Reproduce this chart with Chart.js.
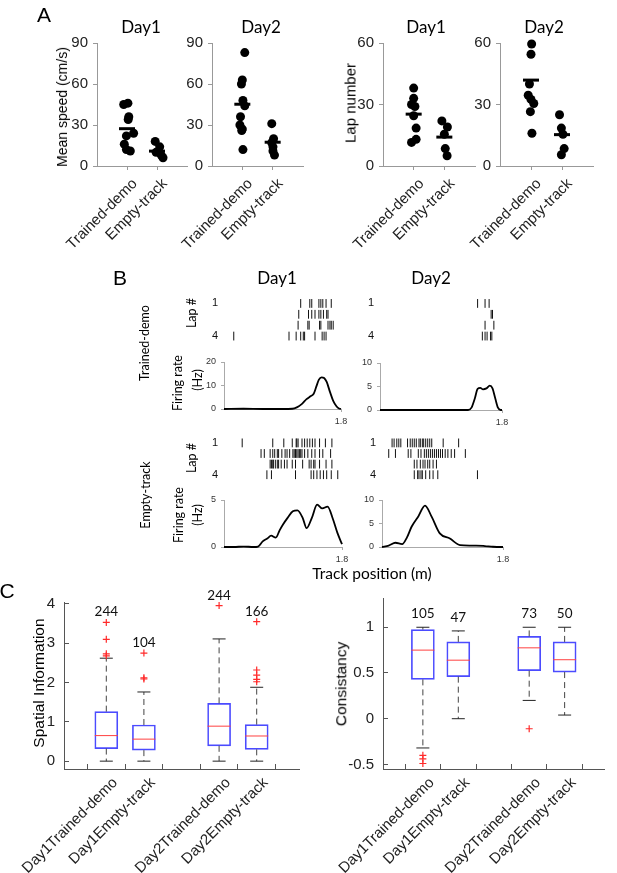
<!DOCTYPE html>
<html>
<head>
<meta charset="utf-8">
<title>Figure</title>
<script src="https://cdn.jsdelivr.net/npm/chart.js@4.4.1/dist/chart.umd.min.js"></script>
<style>
  body { margin: 0; background: #fff; }
  #page { position: relative; width: 617px; height: 873px; overflow: hidden; background: #fff; }
  #page canvas { position: absolute; left: 0; top: 0; }
  .t { position: absolute; white-space: nowrap; line-height: 1; color: #000; transform: translate(-50%, -50%); z-index: 5; }
  .v { transform: translate(-50%, -50%) rotate(-90deg); }
  .cal { font-family: Lato, "Open Sans", sans-serif; }
  .ari { font-family: "Liberation Sans", Arial, sans-serif; }
  .big { font-family: "Liberation Sans", Arial, sans-serif; font-size: 21px; }
</style>
</head>
<body>
<div id="page">
  <div class="t big" style="left:44px;top:14px">A</div>
  <div class="t cal" style="left:141px;top:26px;font-size:17px">Day1</div>
  <div class="t cal" style="left:261px;top:26px;font-size:17px">Day2</div>
  <div class="t cal" style="left:426px;top:26px;font-size:17px">Day1</div>
  <div class="t cal" style="left:544px;top:26px;font-size:17px">Day2</div>
  <div class="t ari v" style="left:62px;top:107px;font-size:14px">Mean speed (cm/s)</div>
  <div class="t ari v" style="left:350px;top:103px;font-size:15px">Lap number</div>

  <div class="t big" style="left:120px;top:277px">B</div>
  <div class="t cal" style="left:277px;top:277px;font-size:17px">Day1</div>
  <div class="t cal" style="left:431px;top:277px;font-size:17px">Day2</div>
  <div class="t cal v" style="left:145px;top:343px;font-size:12.5px">Trained-demo</div>
  <div class="t cal v" style="left:146px;top:495px;font-size:12.5px">Empty-track</div>
  <div class="t cal v" style="left:192px;top:313px;font-size:12.5px">Lap #</div>
  <div class="t cal v" style="left:192px;top:458px;font-size:12.5px">Lap #</div>
  <div class="t cal v" style="left:178px;top:383px;font-size:12.5px">Firing rate</div>
  <div class="t cal v" style="left:198px;top:380px;font-size:12.5px">(Hz)</div>
  <div class="t cal v" style="left:179px;top:515px;font-size:12.5px">Firing rate</div>
  <div class="t cal v" style="left:198px;top:515px;font-size:12.5px">(Hz)</div>
  <div class="t cal" style="left:372px;top:574px;font-size:15.5px">Track position (m)</div>

  <div class="t big" style="left:7px;top:590px">C</div>
  <div class="t ari v" style="left:39px;top:683px;font-size:15.5px">Spatial Information</div>
  <div class="t ari v" style="left:341px;top:684px;font-size:15.5px">Consistancy</div>
</div>
<script>
var W = 617, H = 873;
var page = document.getElementById('page');

// ---------- panel A ----------
var groups = ['Trained-demo', 'Empty-track'];
var speedTicks = [0, 30, 60, 90];
var lapTicks = [0, 30, 60];

var speedD1Trained = [46, 45, 36, 34, 24, 22, 16, 12, 11];
var speedD1TrainedJit = [0.03, -0.11, 0.06, 0.04, 0.22, -0.02, -0.09, -0.02, 0.11];
var speedD1Empty = [18, 14, 10, 8, 6];
var speedD1EmptyJit = [-0.06, 0.09, -0.03, 0.14, 0.2];
var speedD2Trained = [83, 63, 60, 48, 44, 36, 30, 27, 26, 12];
var speedD2TrainedJit = [0.08, 0, -0.03, 0.02, 0.08, -0.06, -0.08, 0, -0.02, 0.02];
var speedD2Empty = [31, 20, 17, 14, 11, 8];
var speedD2EmptyJit = [-0.03, 0.03, -0.03, 0.01, 0.01, 0.06];
var speedMeansD1 = [27.3, 10.9];
var speedMeansD2 = [45.2, 17.4];

var lapD1Trained = [38, 33, 30, 29, 24.5, 18.5, 13, 11.5];
var lapD1TrainedJit = [0, 0, -0.07, 0.04, 0, 0.08, 0.08, -0.07];
var lapD1Empty = [22, 19, 15.5, 8.5, 5];
var lapD1EmptyJit = [-0.08, 0.1, 0, 0.03, 0.09];
var lapD2Trained = [59.5, 54.5, 40, 34.5, 32.5, 30.5, 26.5, 16];
var lapD2TrainedJit = [0.02, 0, -0.05, -0.09, 0, 0.09, -0.02, 0.03];
var lapD2Empty = [25, 18.5, 15.5, 8.5, 5.5];
var lapD2EmptyJit = [-0.08, -0.02, 0.03, 0.07, -0.02];
var lapMeansD1 = [25.3, 14.1];
var lapMeansD2 = [41.9, 15.3];

// ---------- panel B ----------
var trackLen = 1.8;
var lapLabels = [1, 4];
var spikesD1Trained = [
  [1.18, 1.32, 1.35, 1.46, 1.49, 1.52, 1.57, 1.65],
  [1.15, 1.30, 1.35, 1.40, 1.46, 1.49, 1.53, 1.58, 1.60],
  [1.14, 1.29, 1.31, 1.47, 1.49, 1.60, 1.63, 1.65, 1.68],
  [0.15, 1.0, 1.11, 1.18, 1.22, 1.24, 1.40, 1.51, 1.54, 1.57]
];
var spikesD2Trained = [
  [1.44, 1.55, 1.61],
  [1.64, 1.66],
  [1.55, 1.68],
  [1.51, 1.55, 1.58, 1.63, 1.65]
];
var spikesD1Empty = [
  [0.28, 0.75, 0.92, 1.05, 1.11, 1.12, 1.14, 1.2, 1.24, 1.28, 1.32, 1.36, 1.4, 1.47, 1.56, 1.66],
  [0.57, 0.62, 0.71, 0.75, 0.78, 0.82, 0.84, 0.89, 0.94, 0.97, 1.01, 1.06, 1.08, 1.1, 1.12, 1.14, 1.16, 1.18, 1.2, 1.24, 1.29, 1.35, 1.4, 1.47, 1.52, 1.64],
  [0.71, 0.73, 0.75, 0.76, 0.79, 0.82, 0.84, 0.88, 0.93, 0.97, 1.05, 1.10, 1.21, 1.31, 1.34, 1.38, 1.40, 1.47, 1.57, 1.66],
  [0.66, 0.73, 1.10, 1.34, 1.38, 1.43, 1.48, 1.53, 1.58, 1.65, 1.75]
];
var spikesD2Empty = [
  [0.15, 0.18, 0.22, 0.25, 0.28, 0.38, 0.42, 0.45, 0.48, 0.51, 0.55, 0.57, 0.60, 0.62, 0.65, 0.68, 0.71, 0.74, 0.91, 1.14],
  [0.10, 0.20, 0.39, 0.43, 0.54, 0.58, 0.63, 0.66, 0.69, 0.72, 0.75, 0.78, 0.81, 0.84, 0.87, 0.90, 0.94, 0.98, 1.03, 1.08, 1.24],
  [0.48, 0.52, 0.57, 0.61, 0.64, 0.68, 0.71, 0.76, 0.81],
  [0.48, 0.53, 0.55, 0.58, 0.60, 0.65, 0.71, 0.76, 0.83, 1.42]
];
var rateD1TrainedPos = [0, 0.3, 0.6, 0.9, 1.05, 1.12, 1.2, 1.27, 1.33, 1.38, 1.42, 1.46, 1.5, 1.54, 1.58, 1.63, 1.68, 1.73, 1.77, 1.8];
var rateD1Trained = [0, 0.1, 0, 0, 0.1, 0.7, 2.2, 4.2, 5.4, 6.5, 9.5, 12.5, 13.5, 13.2, 11.5, 7.3, 3.5, 1.2, 0.2, 0];
var rateD2TrainedPos = [0, 0.5, 1.0, 1.3, 1.35, 1.4, 1.44, 1.48, 1.52, 1.57, 1.62, 1.66, 1.7, 1.74, 1.78, 1.8];
var rateD2Trained = [0, 0, 0, 0, 0.5, 2.5, 4.5, 4.7, 4.4, 4.6, 5.2, 4.6, 2.5, 0.5, 0, 0];
var rateD1EmptyPos = [0, 0.15, 0.3, 0.45, 0.52, 0.59, 0.66, 0.72, 0.79, 0.85, 0.9, 0.97, 1.05, 1.12, 1.2, 1.26, 1.34, 1.42, 1.5, 1.58, 1.66, 1.73, 1.8];
var rateD1Empty = [0, 0, 0.05, 0, 0.05, 0.6, 0.9, 1.2, 1.0, 1.8, 2.4, 3.1, 3.8, 3.9, 3.1, 2.0, 3.1, 4.5, 4.1, 4.3, 3.0, 1.5, 0.3];
var rateD2EmptyPos = [0, 0.1, 0.2, 0.3, 0.37, 0.44, 0.54, 0.64, 0.74, 0.86, 1.01, 1.16, 1.3, 1.4, 1.53, 1.65, 1.77, 1.8];
var rateD2Empty = [0, 0.3, 0.9, 0.6, 2.0, 4.3, 6.5, 8.8, 6.4, 2.9, 1.8, 0.4, 0.3, 0.3, 0.2, 0.05, 0, 0];

// ---------- panel C ----------
var boxLabels = ['Day1Trained-demo', 'Day1Empty-track', '', 'Day2Trained-demo', 'Day2Empty-track'];
var boxTicks = [1, 2, 3, 4, 5];
var boxPos = [1, 2, 4, 5];
var siTicks = [0, 1, 2, 3, 4];
var siLow = [0, 0, 0, 0];
var siQ1 = [0.32, 0.28, 0.39, 0.30];
var siMed = [0.65, 0.56, 0.89, 0.64];
var siQ3 = [1.26, 0.92, 1.47, 0.93];
var siHigh = [2.62, 1.76, 3.11, 1.88];
var siOut = [[2.68, 2.73, 3.1, 3.53], [2.09, 2.12, 2.75], [3.96], [2.02, 2.08, 2.19, 2.32, 3.55]];
var siN = [244, 104, 244, 166];
var conTicks = [-0.5, 0, 0.5, 1];
var conLow = [-0.32, 0.0, 0.2, 0.04];
var conQ1 = [0.43, 0.46, 0.525, 0.51];
var conMed = [0.75, 0.64, 0.775, 0.645];
var conQ3 = [0.975, 0.84, 0.9, 0.84];
var conHigh = [1.0, 0.96, 1.0, 1.0];
var conOut = [[-0.40, -0.44, -0.49], [], [-0.11], []];
var conN = [105, 47, 73, 50];

Chart.defaults.font.family = '"Liberation Sans", Arial, sans-serif';
Chart.defaults.color = '#222';

function ticksAt(vals) {
  return function (s) { s.ticks = vals.map(function (v) { return {value: v}; }); };
}
function fixW(w) {
  return function (s) { s.width = w; s.paddingLeft = s.paddingRight = s.paddingTop = s.paddingBottom = 0; };
}
function fixH(h) {
  return function (s) { s.height = h; s.paddingLeft = s.paddingRight = s.paddingTop = s.paddingBottom = 0; };
}
function plain(v) { return String(v); }

// area = [left, top, right, bottom] of the plot box on the page
function makeChart(area, datasets, xs, ys, plugins) {
  var c = document.createElement('canvas');
  c.width = W; c.height = H;
  page.appendChild(c);
  xs.type = 'linear'; xs.position = 'bottom'; xs.afterFit = fixH(H - area[3]);
  ys.type = 'linear'; ys.position = 'left'; ys.afterFit = fixW(area[0]);
  return new Chart(c, {
    type: 'scatter',
    data: {datasets: datasets},
    options: {
      responsive: false,
      animation: false,
      layout: {padding: {left: 0, top: area[1], right: W - area[2], bottom: 0}},
      scales: {x: xs, y: ys},
      plugins: {legend: {display: false}, tooltip: {enabled: false}}
    },
    plugins: plugins || []
  });
}

function dots(vals, jit, g) {
  return vals.map(function (v, i) { return {x: g + jit[i], y: v}; });
}

function dotPlot(area, yMax, yTicks, tr, trJ, em, emJ, means) {
  return makeChart(area, [
    {data: [{x: 1, y: means[0]}, {x: 2, y: means[1]}], pointStyle: 'line', radius: 8, borderWidth: 3, borderColor: '#000', clip: false},
    {data: dots(tr, trJ, 1).concat(dots(em, emJ, 2)), pointStyle: 'circle', radius: 4.5, backgroundColor: '#000', borderWidth: 0, clip: false}
  ], {
    min: 0, max: 3, afterBuildTicks: ticksAt([1, 2]),
    ticks: {autoSkip: false, minRotation: 45, maxRotation: 45, padding: 5, labelOffset: 8, font: {size: 15}, color: '#222',
      callback: function (v) { return groups[v - 1]; }},
    grid: {drawOnChartArea: false, tickLength: 4, color: '#999'},
    border: {color: '#999'}
  }, {
    min: 0, max: yMax, afterBuildTicks: ticksAt(yTicks),
    ticks: {padding: 5, font: {size: 15}, color: '#222', callback: plain},
    grid: {drawOnChartArea: false, tickLength: 4, color: '#999'},
    border: {color: '#999'}
  });
}

function rasterPlot(area, laps) {
  var pts = [];
  laps.forEach(function (lap, i) {
    lap.forEach(function (p) { pts.push({x: p, y: i + 1}); });
  });
  return makeChart(area, [
    {data: pts, pointStyle: 'line', rotation: 90, radius: 4.4, borderColor: '#111', borderWidth: 1, clip: false}
  ], {
    min: 0, max: trackLen, ticks: {display: false}, grid: {display: false, drawTicks: false}, border: {display: false}
  }, {
    min: 0.5, max: 4.5, reverse: true, afterBuildTicks: ticksAt(lapLabels),
    ticks: {padding: 6, font: {size: 11}, color: '#111', callback: plain},
    grid: {display: false, drawTicks: false}, border: {display: false}
  });
}

function ratePlot(area, pos, rate, yMax, yTicks) {
  return makeChart(area, [
    {type: 'line', data: pos.map(function (p, i) { return {x: p, y: rate[i]}; }),
      borderColor: '#000', borderWidth: 1.8, pointRadius: 0, cubicInterpolationMode: 'monotone', fill: false, clip: false}
  ], {
    min: 0, max: trackLen, afterBuildTicks: ticksAt([trackLen]),
    ticks: {padding: 4, font: {size: 9}, color: '#333', maxRotation: 0, autoSkip: false, callback: plain},
    grid: {drawOnChartArea: false, tickLength: 3, color: '#aaa'},
    border: {color: '#aaa'}
  }, {
    min: 0, max: yMax, afterBuildTicks: ticksAt(yTicks),
    ticks: {padding: 5, font: {size: 9}, color: '#333', callback: plain},
    grid: {drawOnChartArea: false, tickLength: 3, color: '#aaa'},
    border: {color: '#aaa'}
  });
}

function counts(n, high, outl, gap) {
  return {
    id: 'counts',
    afterDatasetsDraw: function (chart) {
      var ctx = chart.ctx;
      ctx.save();
      ctx.font = '13.5px Lato';
      ctx.fillStyle = '#111';
      ctx.textAlign = 'center';
      ctx.textBaseline = 'alphabetic';
      n.forEach(function (v, i) {
        var top = Math.max.apply(null, [high[i]].concat(outl[i]));
        ctx.fillText(String(v), chart.scales.x.getPixelForValue(boxPos[i]), chart.scales.y.getPixelForValue(top) - gap);
      });
      ctx.restore();
    }
  };
}

function boxPlot(area, yMin, yMax, yTicks, low, q1, med, q3, high, outl, n, gap) {
  var wh = [], caps = [], meds = [], boxes = [], outs = [];
  boxPos.forEach(function (x, i) {
    wh.push({x: x, y: q3[i]}, {x: x, y: high[i]}, {x: x, y: null}, {x: x, y: q1[i]}, {x: x, y: low[i]}, {x: x, y: null});
    caps.push({x: x, y: high[i]}, {x: x, y: low[i]});
    meds.push({x: x, y: med[i]});
    boxes.push({x: x, y: [q1[i], q3[i]]});
    outl[i].forEach(function (v) { outs.push({x: x, y: v}); });
  });
  return makeChart(area, [
    {data: outs, pointStyle: 'cross', radius: 3.5, borderColor: '#ff2a2a', borderWidth: 1.2, clip: false},
    {data: meds, pointStyle: 'line', radius: 11.5, borderColor: '#ff4040', borderWidth: 1, clip: false},
    {data: caps, pointStyle: 'line', radius: 6.5, borderColor: '#222', borderWidth: 1, clip: false},
    {type: 'line', data: wh, borderColor: '#444', borderWidth: 1, borderDash: [6, 4], pointRadius: 0, spanGaps: false, fill: false, clip: false},
    {type: 'bar', data: boxes, barThickness: 23, backgroundColor: 'rgba(0,0,0,0)', borderColor: '#4b4bff', borderWidth: 1, borderSkipped: false, clip: false}
  ], {
    min: 0.5, max: 5.5, afterBuildTicks: ticksAt(boxTicks),
    ticks: {autoSkip: false, minRotation: 45, maxRotation: 45, padding: 10, labelOffset: 9, font: {size: 15}, color: '#222',
      callback: function (v) { return boxLabels[v - 1]; }},
    grid: {drawOnChartArea: false, tickLength: -5, color: '#555'},
    border: {color: '#555'}
  }, {
    min: yMin, max: yMax, afterBuildTicks: ticksAt(yTicks),
    ticks: {padding: 14, font: {size: 15}, color: '#222', callback: plain},
    grid: {drawOnChartArea: false, tickLength: -5, color: '#555'},
    border: {color: '#555'}
  }, [counts(n, high, outl, gap)]);
}

// panel A
dotPlot([97, 43, 187, 166], 90, speedTicks, speedD1Trained, speedD1TrainedJit, speedD1Empty, speedD1EmptyJit, speedMeansD1);
dotPlot([212, 43, 303, 166], 90, speedTicks, speedD2Trained, speedD2TrainedJit, speedD2Empty, speedD2EmptyJit, speedMeansD2);
dotPlot([383, 43, 475, 166], 60, lapTicks, lapD1Trained, lapD1TrainedJit, lapD1Empty, lapD1EmptyJit, lapMeansD1);
dotPlot([500, 43, 593, 166], 60, lapTicks, lapD2Trained, lapD2TrainedJit, lapD2Empty, lapD2EmptyJit, lapMeansD2);

// panel B
rasterPlot([224, 298, 341, 341.5], spikesD1Trained);
ratePlot([224, 362, 341, 409], rateD1TrainedPos, rateD1Trained, 20, [0, 10, 20]);
rasterPlot([380, 298, 502, 341.5], spikesD2Trained);
ratePlot([380, 363, 502, 410], rateD2TrainedPos, rateD2Trained, 10, [0, 5, 10]);
rasterPlot([224, 437.6, 341, 480], spikesD1Empty);
ratePlot([224, 500, 342, 547], rateD1EmptyPos, rateD1Empty, 5, [0, 5]);
rasterPlot([382, 437.6, 503, 480], spikesD2Empty);
ratePlot([382, 500, 503, 547], rateD2EmptyPos, rateD2Empty, 10, [0, 5, 10]);

// panel C
boxPlot([64, 602, 299, 769], -0.2, 4.05, siTicks, siLow, siQ1, siMed, siQ3, siHigh, siOut, siN, 6);
boxPlot([383, 598, 617, 769], -0.55, 1.32, conTicks, conLow, conQ1, conMed, conQ3, conHigh, conOut, conN, 9);
</script>
</body>
</html>
